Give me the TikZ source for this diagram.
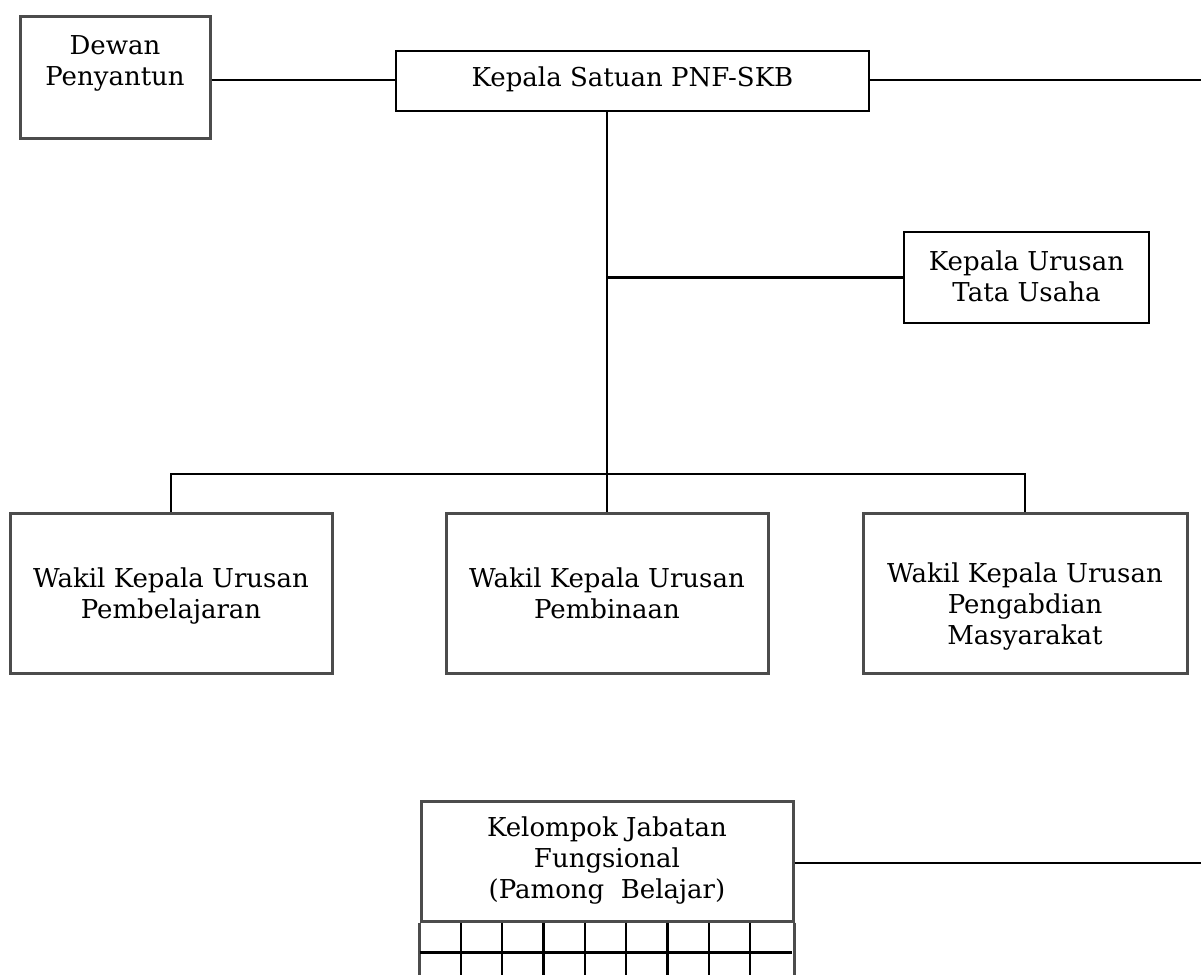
\documentclass[tikz,border=0pt]{standalone}
\usepackage{fontspec}
\setmainfont{DejaVu Serif}
\tikzset{
  box/.style={draw,line width=1.3pt,inner sep=0pt},
  softbox/.style={draw=black!70,line width=1.5pt,inner sep=0pt},
  txt/.style={align=center,font=\fontsize{13}{15.5}\selectfont},
  link/.style={line width=1.2pt}
}
\begin{document}
\begin{tikzpicture}[x=0.5pt,y=-0.5pt]
\clip (0,0) rectangle (1201,975);
\fill[white] (0,0) rectangle (1201,975);
% boxes
\node[softbox,minimum width=95pt,minimum height=61pt] (dewan) at (115,77) {};
\node[txt] (dewant) at (115,63) {Dewan\\Penyantun};
\node[box,minimum width=236.5pt,minimum height=30pt] (kepala) at (632.5,81) {};
\node[txt] (kepalat) at (632.5,79) {Kepala Satuan PNF-SKB};
\node[box,minimum width=122.5pt,minimum height=45.5pt] (tu) at (1026.5,277.5) {};
\node[txt] (tut) at (1026.5,276) {Kepala Urusan\\Tata Usaha};
\node[softbox,minimum width=161pt,minimum height=80pt] (wkl1) at (171,593) {};
\node[txt] (wkl1t) at (171,596) {Wakil Kepala Urusan\\Pembelajaran};
\node[softbox,minimum width=161pt,minimum height=80pt] (wkl2) at (607,593) {};
\node[txt] (wkl2t) at (607,593) {Wakil Kepala Urusan\\Pembinaan};
\node[softbox,minimum width=162pt,minimum height=80pt] (wkl3) at (1025,593) {};
\node[txt] (wkl3t) at (1025,607) {Wakil Kepala Urusan\\Pengabdian\\Masyarakat};
\node[softbox,minimum width=186pt,minimum height=60pt] (kel) at (607,861) {};
\node[txt] (kelt) at (607,861) {Kelompok Jabatan\\Fungsional\\(Pamong~~Belajar)};
% grid under the functional group
\draw[softbox] (kel.south west) -- ++(0,80);
\draw[softbox] (kel.south east) -- ++(0,80);
\foreach \k in {1,...,8}
  \draw[link] (kel.south west) ++(41.33*\k,0) -- ++(0,80);
\foreach \r in {30,60}
  \draw[link] (kel.south west) ++(0,\r) -- ++(372,0);
% free ends on the right
\coordinate (kepalaend) at (1201,80);
\coordinate (kelend) at (1201,863);
\coordinate (bus) at (608,474);
% connectors
\draw[link] (dewan.east |- 0,80) -- (kepala.west |- 0,80);
\draw[link] (kepala.east |- kepalaend) -- (kepalaend);
\draw[link] (wkl2.north |- kepala.south) -- (wkl2.north);
\draw[link] (wkl2.north |- tu.west) -- (tu.west);
\draw[link] (wkl1.north) -- (bus -| wkl1.north) -- (bus -| wkl3.north) -- (wkl3.north);
\draw[link] (kel.east |- kelend) -- (kelend);
\end{tikzpicture}
\end{document}
